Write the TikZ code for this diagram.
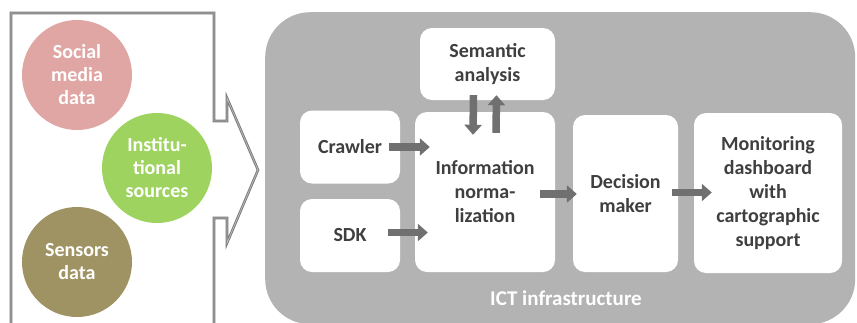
\documentclass[tikz,border=0pt]{standalone}
\usepackage{fontspec}
\setmainfont{Carlito}
\usetikzlibrary{arrows.meta,calc}
\definecolor{panel}{HTML}{B3B3B3}
\definecolor{arr}{HTML}{707070}
\definecolor{txt}{HTML}{3F3F3F}
\definecolor{pinkc}{HTML}{E0A6A4}
\definecolor{greenc}{HTML}{9ED35F}
\definecolor{olivec}{HTML}{A09363}
\definecolor{frame}{HTML}{7A7A7A}
\definecolor{frameinner}{HTML}{B8B8B8}
\tikzset{
  wbox/.style={draw=none,fill=white,rounded corners=12pt,align=center,text=txt,
    font=\fontsize{20}{24}\selectfont\bfseries,inner sep=0pt},
  src/.style={circle,fill=#1,minimum size=110pt,inner sep=0pt,align=center,text=white,
    font=\fontsize{20}{23}\selectfont\bfseries},
  flow/.style={draw=arr,line width=7.5pt,-{Triangle[width=17pt,length=10pt]}},
  frameline/.style={line join=miter},
}
\begin{document}
\begin{tikzpicture}[x=1pt,y=-1pt]
\useasboundingbox (0,0) rectangle (857,322);
% left frame (open arrow shape)
\foreach \c/\w in {frame/2.6pt,frameinner/0.8pt}{
\draw[frameline,draw=\c,line width=\w]
  (11,323) -- (11,13) -- (214,13) -- (214,121) -- (227,121) -- (227,98)
  -- (258,170) -- (227,243) -- (227,218) -- (214,218) -- (214,323);
}
% sources
\node[src=pinkc] (social) at (77,75) {Social\\media\\data};
\node[src=greenc] (inst) at (157,168) {Institu-\\tional\\sources};
\node[src=olivec] (sens) at (77,262) {Sensors\\data};
% panel
\node[fill=panel,rounded corners=45pt,minimum width=590pt,minimum height=312pt,inner sep=0pt,anchor=north west] (panel) at (265,12) {};
\node[text=white,font=\fontsize{21}{24}\selectfont\bfseries] (ict) at (566,298) {ICT infrastructure};
% boxes
\node[wbox,minimum width=135pt,minimum height=72pt] (sem) at (487.5,64) {Semantic\\analysis};
\node[wbox,minimum width=100pt,minimum height=73pt] (crawl) at (350,147) {Crawler};
\node[wbox,minimum width=100pt,minimum height=73pt] (sdk) at (350,235.5) {SDK};
\node[wbox,minimum width=140pt,minimum height=160pt] (info) at (485,192) {Information\\norma-\\lization};
\node[wbox,minimum width=105pt,minimum height=157pt] (dec) at (625.5,193.5) {Decision\\maker};
\node[wbox,minimum width=148pt,minimum height=160pt] (mon) at (768,193) {Monitoring\\dashboard\\with\\cartographic\\support};
% arrows
\draw[flow] ($(crawl.east)+(-11,0)$) -- ($(crawl.east -| info.west)+(15,0)$);
\draw[flow] ($(sdk.east)+(-12,-3)$) -- ($(sdk.east -| info.west)+(13,-3)$);
\draw[flow] ($(sem.south)+(-14,-5)$) -- ($(info.north)+(-12,23)$);
\draw[flow] ($(info.north)+(11,21)$) -- ($(sem.south)+(9,-5)$);
\draw[flow] ($(info.east)+(-15,2)$) -- ($(info.east -| dec.west)+(4,2)$);
\draw[flow] ($(dec.east)+(-6,-1)$) -- ($(dec.east -| mon.west)+(18,-1)$);
\end{tikzpicture}
\end{document}
